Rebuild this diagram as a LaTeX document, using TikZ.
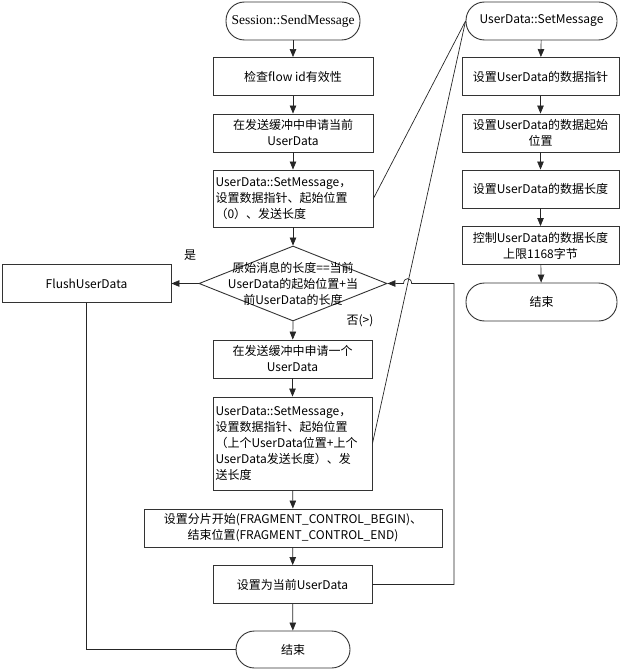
\documentclass[tikz,border=0pt]{standalone}
\usepackage{fontspec}
\setmainfont{Noto Sans CJK SC}
\newfontfamily\latinserif{Liberation Serif}
\usetikzlibrary{arrows.meta,shapes.geometric}
\begin{document}
\begin{tikzpicture}[x=1pt,y=-1pt,
  line/.style={draw=black!85, line width=0.7pt},
  arr/.style={line, -{Triangle[length=8pt,width=6.5pt]}},
  box/.style={draw=black!80, line width=0.9pt, minimum height=38pt, inner xsep=2.5pt, inner ysep=2pt, font=\fontsize{12}{16}\selectfont, align=center},
  term/.style={box, rounded corners=18.5pt},
  dia/.style={draw=black!80, line width=0.9pt, shape=diamond, minimum width=188pt, minimum height=75pt, inner sep=0pt},
  lbl/.style={font=\fontsize{12}{16}\selectfont}
]
\useasboundingbox (0,0) rectangle (622,671);
% left column
\node[term, minimum width=134pt] (start) at (293,21) {\latinserif\fontsize{13.5}{15}\selectfont Session::SendMessage};
\node[box, minimum width=160pt] (chk) at (293,76.5) {检查flow id有效性};
\node[box, minimum width=160pt] (req) at (293,133) {在发送缓冲中申请当前\\UserData};
\node[box, text width=155pt, align=left, minimum height=57pt] (set1) at (293,198.5) {UserData::SetMessage，\\设置数据指针、起始位置\\（0）、发送长度};
\node[dia] (dec) at (293,283.5) {};
\node[lbl, align=center] (dect) at (dec) {原始消息的长度==当前\\UserData的起始位置+当\\前UserData的长度};
\node[box, minimum width=169pt] (flush) at (86.5,283.5) {FlushUserData};
\node[box, minimum width=159pt] (req2) at (292.5,359) {在发送缓冲中申请一个\\UserData};
\node[box, text width=154pt, align=left, minimum height=93pt] (set2) at (292.5,443.5) {UserData::SetMessage，\\设置数据指针、起始位置\\（上个UserData位置+上个\\UserData发送长度）、发\\送长度};
\node[box, minimum width=298pt] (frag) at (293,528) {设置分片开始(FRAGMENT\_CONTROL\_BEGIN)、\\结束位置(FRAGMENT\_CONTROL\_END)};
\node[box, minimum width=159pt] (cur) at (292.5,584.5) {设置为当前UserData};
\node[term, minimum width=114pt, minimum height=37pt] (end) at (293,649.5) {结束};
\node[lbl] (yes) at (190,255) {是};
\node[lbl] (no) at (360,321) {否(>)};
% right column
\node[term, minimum width=151pt] (sm) at (541.5,21) {UserData::SetMessage};
\node[box, minimum width=157pt] (r1) at (540.5,76.5) {设置UserData的数据指针};
\node[box, minimum width=157pt] (r2) at (540.5,133) {设置UserData的数据起始\\位置};
\node[box, minimum width=157pt] (r3) at (540.5,189) {设置UserData的数据长度};
\node[box, minimum width=157pt] (r4) at (540.5,245.5) {控制UserData的数据长度\\上限1168字节};
\node[term, minimum width=151pt] (rend) at (541.5,302) {结束};
% connectors left
\draw[arr] (start) -- (chk);
\draw[arr] (chk) -- (req);
\draw[arr] (req) -- (set1);
\draw[arr] (set1) -- (dec.north);
\draw[arr] (dec.south) -- (req2);
\draw[arr] (req2) -- (set2);
\draw[arr] (set2) -- (frag);
\draw[arr] (frag) -- (cur);
\draw[arr] (cur) -- (end);
\draw[arr] (dec.west) -- (flush.east);
\draw[line] (flush.south) |- (end.west);
\draw[line] (set1.east) -- (sm.west);
\draw[line] (set2.east) -- (sm.west);
\coordinate (lp) at (454,283.5);
\coordinate (hopA) at (411.6,283.5);
\coordinate (hopB) at (403.6,283.5);
\draw[arr] (cur.east) -| (lp) -- (hopA) .. controls (411.6,277) and (403.6,277) .. (hopB) -- (dec.east);
% connectors right
\draw[arr] (sm) -- (r1);
\draw[arr] (r1) -- (r2);
\draw[arr] (r2) -- (r3);
\draw[arr] (r3) -- (r4);
\draw[arr] (r4) -- (rend);
\end{tikzpicture}
\end{document}
